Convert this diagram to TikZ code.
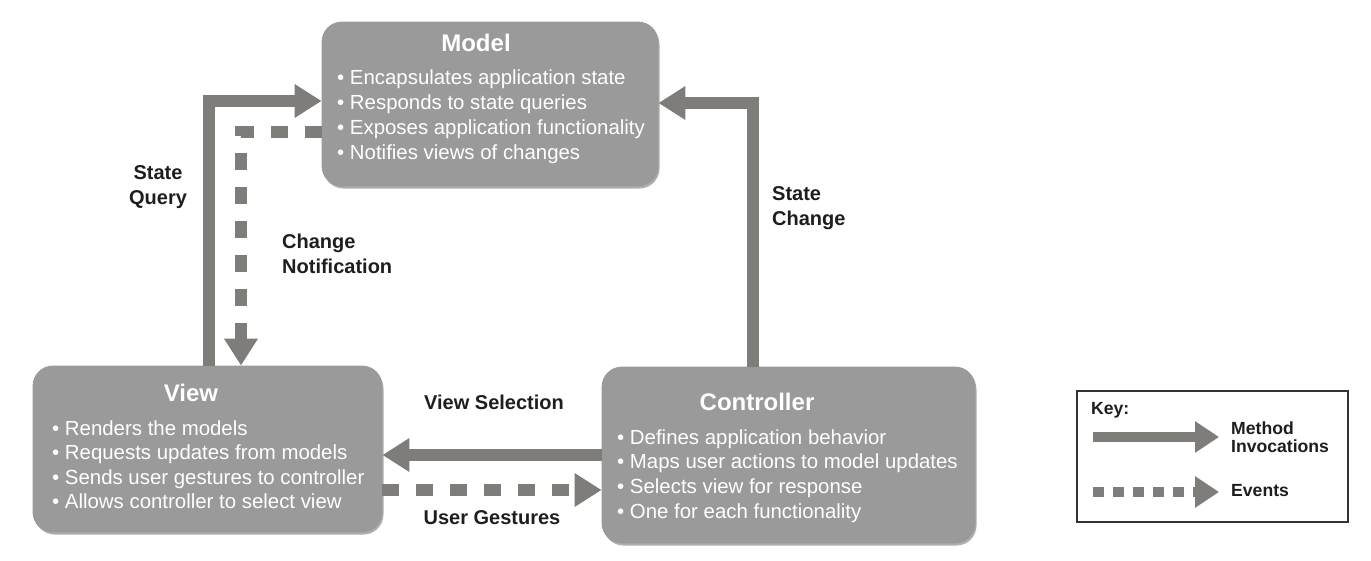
\documentclass[tikz,border=0pt]{standalone}
\usepackage{fontspec}
\setmainfont{Liberation Sans}
\usetikzlibrary{arrows.meta,shadows,calc}
\definecolor{boxgray}{HTML}{9A9A9A}
\definecolor{arrgray}{HTML}{7F7D7A}
\definecolor{labelblack}{HTML}{1E1E1E}
\tikzset{
  mvcbox/.style={fill=boxgray, rounded corners=20pt, draw=black!40, line width=0.8pt, inner sep=0pt,
    drop shadow={opacity=0.45, shadow xshift=1.5pt, shadow yshift=-2.5pt, fill=black!70}},
  ttl/.style={text=white, font=\fontsize{24}{28}\selectfont\bfseries, inner sep=0pt},
  bul/.style={text=white, font=\fontsize{20.4}{24}\selectfont, anchor=base west, inner sep=0pt},
  lbl/.style={text=labelblack, font=\fontsize{20}{25}\selectfont\bfseries, inner sep=0pt},
  keylbl/.style={text=labelblack, font=\fontsize{17.6}{18.5}\selectfont\bfseries, inner sep=0pt, anchor=west, align=left},
  method/.style={draw=arrgray, line width=12pt, -{Triangle[length=27pt,width=32pt]}},
  event/.style={method, dash pattern=on 17pt off 17pt},
  keymethod/.style={draw=arrgray, line width=10pt, -{Triangle[length=24pt,width=30pt]}},
  keyevent/.style={keymethod, dash pattern=on 11pt off 9pt},
}
\begin{document}
\begin{tikzpicture}[x=1pt,y=-1pt]
\useasboundingbox (0,0) rectangle (1371,560);
\fill[white] (0,0) rectangle (1371,560);

% boxes
\node[mvcbox, minimum width=336pt, minimum height=164pt] (model) at (490,104) {};
\node[mvcbox, minimum width=349pt, minimum height=166pt] (view) at (207.5,449) {};
\node[mvcbox, minimum width=373pt, minimum height=176pt] (ctrl) at (788.5,455) {};

% titles
\node[ttl] (modelt) at (476,43) {Model};
\node[ttl] (viewt) at (191,393) {View};
\node[ttl] (ctrlt) at (757,402) {Controller};

% bullets
\foreach \t [count=\i] in {Encapsulates application state, Responds to state queries, Exposes application functionality, Notifies views of changes}
  \node[bul] (mb\i) at (337,59+25*\i) {\textbullet\ \t};
\foreach \t [count=\i] in {Renders the models, Requests updates from models, Sends user gestures to controller, Allows controller to select view}
  \node[bul] (vb\i) at (52,410.5+24.5*\i) {\textbullet\ \t};
\foreach \t [count=\i] in {Defines application behavior, Maps user actions to model updates, Selects view for response, One for each functionality}
  \node[bul] (cb\i) at (617,419.5+24.7*\i) {\textbullet\ \t};

% connectors
\coordinate (sq) at (209,101);
\coordinate (cn) at (241,132);
\coordinate (sc) at (753,103);
\coordinate (vs) at (0,455);
\coordinate (ug) at (0,490);
\draw[method] (view.north -| sq) |- (model.west |- sq);
\draw[event] (model.west |- cn) -| (view.north -| cn);
\draw[method] (ctrl.north -| sc) |- (model.east |- sc);
\draw[method] (ctrl.west |- vs) -- (view.east |- vs);
\draw[event] (view.east |- ug) -- (ctrl.west |- ug);

% labels
\node[lbl, align=center] (sql) at (158,187.5) {State\\Query};
\node[lbl, align=left, anchor=west] (cnl) at (282,253.5) {Change\\Notification};
\node[lbl, align=left, anchor=west] (scl) at (772,208) {State\\Change};
\node[lbl] (vsl) at (494,402) {View Selection};
\node[lbl] (ugl) at (492,518) {User Gestures};

% key
\node[draw=black!80, line width=1.2pt, minimum width=271pt, minimum height=131pt, inner sep=0pt] (key) at (1212.5,456.5) {};
\node[keylbl] (keyt) at (1091,410) {Key:};
\coordinate (k1a) at (1093,437);
\coordinate (k1b) at (1219,437);
\coordinate (k2a) at (1093,492);
\coordinate (k2b) at (1219,492);
\draw[keymethod] (k1a) -- (k1b);
\draw[keyevent] (k2a) -- (k2b);
\node[keylbl] (kml) at (1231,437) {Method\\Invocations};
\node[keylbl] (kel) at (1231,491) {Events};
\end{tikzpicture}
\end{document}
